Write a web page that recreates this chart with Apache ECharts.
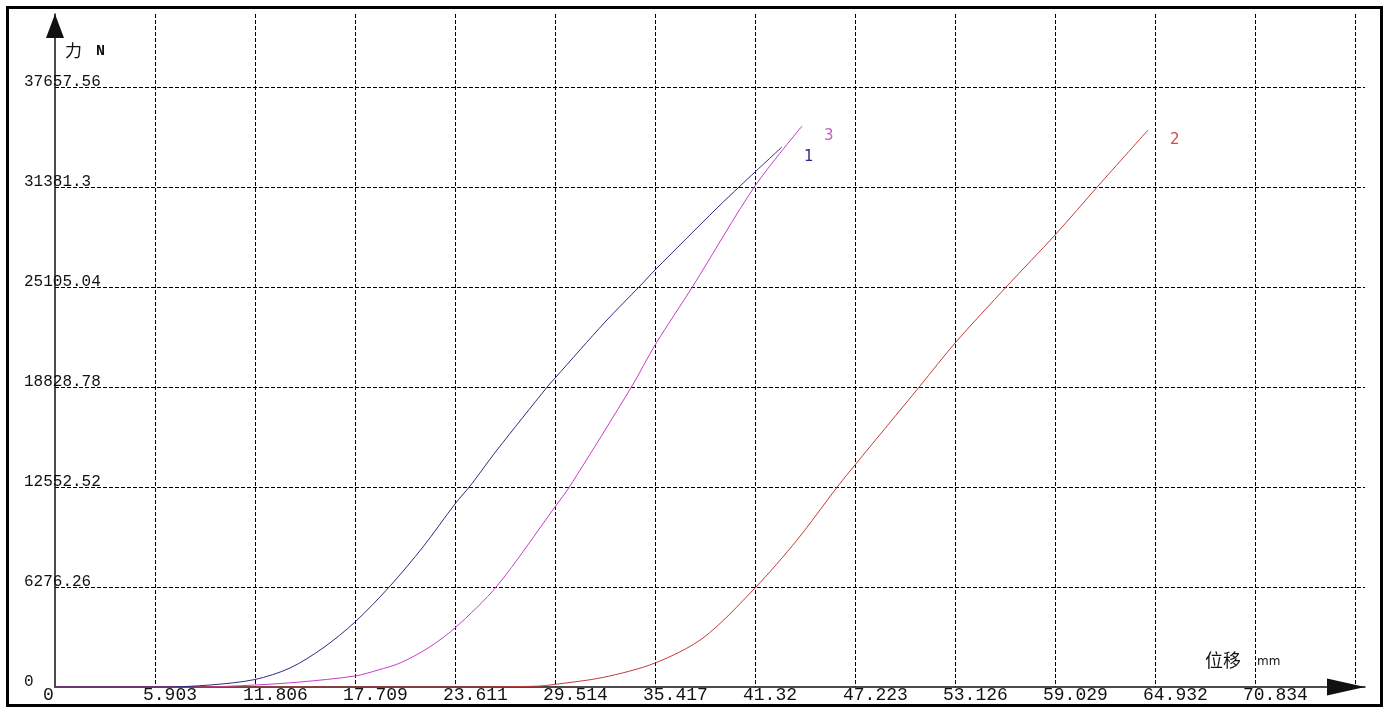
<!DOCTYPE html>
<html>
<head>
<meta charset="utf-8">
<script src="https://cdn.jsdelivr.net/npm/echarts@6/dist/echarts.min.js"></script>
<style>
html,body{margin:0;padding:0;background:#fff;}
#chart{width:1389px;height:713px;}
</style>
</head>
<body>
<div id="chart"></div>
<script>
// ---- tick labels ----
const xTickLabels = ['0','5.903','11.806','17.709','23.611','29.514','35.417','41.32','47.223','53.126','59.029','64.932','70.834'];
const yTickLabels = ['0','6276.26','12552.52','18828.78','25105.04','31381.3','37657.56'];

// ---- series names ----
const seriesNames = ['1', '2', '3'];

// ---- curve 1 (blue) : displacement mm / force N ----
const curve1Disp  = [0, 6.49, 9.15, 11.81, 13.87, 15.82, 17.71, 19.78, 21.72, 23.61, 24.50, 25.21, 26.09, 29.10, 29.52, 32.47, 34.53, 35.42, 39.08, 40.44, 41.32, 42.91];
const curve1Force = [0, 0, 125, 471, 1192, 2448, 4080, 6339, 8787, 11486, 12615, 13619, 14874, 18891, 19393, 22908, 25168, 26172, 30063, 31444, 32323, 33892];

// ---- curve 2 (red) ----
const curve2Disp  = [0, 23.49, 26.50, 28.63, 29.40, 32.35, 35.42, 38.25, 41.32, 43.80, 46.22, 47.22, 51.06, 53.13, 56.20, 59.03, 61.57, 64.52];
const curve2Force = [0, 0, 15, 60, 150, 600, 1506, 3075, 6213, 9226, 12615, 13933, 18891, 21590, 25168, 28369, 31444, 34959];

// ---- curve 3 (magenta) ----
const curve3Disp  = [0, 8.56, 11.81, 14.46, 17.71, 19.07, 20.37, 22.02, 23.61, 26.09, 29.51, 30.40, 34.06, 35.42, 37.66, 41.32, 44.10];
const curve3Force = [0, 0, 125, 314, 690, 1067, 1506, 2448, 3703, 6339, 11297, 12615, 18891, 21465, 25168, 31444, 35210];

// ---- axis scale settings ----
const xStep = 5.902833;
const yStep = 6276.26;
const xAxisEnd = 77.327;   // value at arrow tip of x axis
const yAxisEnd = 42239.2;  // value at arrow tip of y axis

function pairs(xs, ys) { return xs.map((x, i) => [x, ys[i]]); }
function tickFormatter(list, step) {
  return function (v) {
    const k = Math.round(v / step);
    if (Math.abs(v - k * step) < step * 1e-4 && list[k] !== undefined) return list[k];
    return '';
  };
}

const gridDash = { color: '#000', width: 1, type: [4, 2] };
const colors = { c1: '#2c2c7c', c2: '#c03c3c', c3: '#c83cc8' };
const labelColors = { c1: '#2c2c8c', c2: '#d04c4c', c3: '#c060c0' };

function makeSeries(name, xs, ys, color, labelColor) {
  return {
    name: name,
    type: 'line',
    data: pairs(xs, ys),
    showSymbol: false,
    symbol: 'none',
    smooth: 0.3,
    lineStyle: { color: color, width: 1 },
    itemStyle: { color: color },
    endLabel: {
      show: true,
      formatter: '{a}',
      color: labelColor,
      fontFamily: 'DejaVu Sans',
      fontSize: 15,
      distance: 0,
      offset: [22, 10]
    },
    emphasis: { disabled: true },
    z: 3
  };
}

const chart = echarts.init(document.getElementById('chart'), null, { renderer: 'canvas' });
chart.setOption({
  animation: false,
  backgroundColor: '#fff',
  grid: { left: 55, right: 24, top: 14, bottom: 26, containLabel: false, outerBoundsMode: 'none' },
  xAxis: {
    type: 'value',
    min: 0,
    max: xAxisEnd,
    interval: xStep,
    name: '{a|位移}{b|mm}',
    nameLocation: 'end',
    nameGap: -160,
    nameTextStyle: {
      align: 'left',
      verticalAlign: 'middle',
      padding: [0, 0, 54, 0],
      rich: {
        a: { fontFamily: 'Noto Sans CJK SC', fontSize: 18, color: '#111' },
        b: { fontFamily: 'DejaVu Sans', fontSize: 12, color: '#111', padding: [4, 0, 0, 16] }
      }
    },
    axisLine: {
      show: true,
      lineStyle: { color: '#111', width: 1.5 },
      symbol: ['none', 'triangle'],
      symbolSize: [17, 38],
      symbolOffset: [0, -19]
    },
    axisTick: { show: false },
    axisLabel: {
      show: true,
      formatter: tickFormatter(xTickLabels, xStep),
      fontFamily: 'Liberation Mono',
      fontSize: 18,
      color: '#111',
      align: 'left',
      verticalAlign: 'top',
      lineHeight: 16,
      margin: 0,
      padding: [0, 0, 0, -12],
      showMaxLabel: true,
      hideOverlap: false
    },
    splitLine: { show: true, lineStyle: gridDash, showMaxLine: false, showMinLine: false }
  },
  yAxis: {
    type: 'value',
    min: 0,
    max: yAxisEnd,
    interval: yStep,
    name: '{a|力}{b|N}',
    nameLocation: 'end',
    nameGap: -37,
    nameTextStyle: {
      align: 'left',
      verticalAlign: 'middle',
      padding: [0, 0, 0, 10],
      rich: {
        a: { fontFamily: 'Noto Sans CJK SC', fontSize: 17, color: '#111' },
        b: { fontFamily: 'Liberation Mono', fontSize: 15, fontWeight: 'bold', color: '#111', padding: [0, 0, 0, 14] }
      }
    },
    axisLine: {
      show: true,
      lineStyle: { color: '#111', width: 1.5 },
      symbol: ['none', 'triangle'],
      symbolSize: [18, 24],
      symbolOffset: [0, -12]
    },
    axisTick: { show: false },
    axisLabel: {
      show: true,
      formatter: tickFormatter(yTickLabels, yStep),
      fontFamily: 'Liberation Mono',
      fontSize: 16,
      color: '#111',
      align: 'left',
      verticalAlign: 'bottom',
      lineHeight: 10,
      margin: 31,
      hideOverlap: false
    },
    splitLine: { show: true, lineStyle: gridDash, showMaxLine: false, showMinLine: false }
  },
  graphic: [{
    type: 'rect',
    silent: true,
    z: 100,
    shape: { x: 7.5, y: 7.5, width: 1374, height: 698 },
    style: { fill: 'none', stroke: '#000', lineWidth: 3 }
  }],
  series: [
    makeSeries(seriesNames[2], curve3Disp, curve3Force, colors.c3, labelColors.c3),
    makeSeries(seriesNames[1], curve2Disp, curve2Force, colors.c2, labelColors.c2),
    makeSeries(seriesNames[0], curve1Disp, curve1Force, colors.c1, labelColors.c1)
  ]
});
</script>
</body>
</html>
